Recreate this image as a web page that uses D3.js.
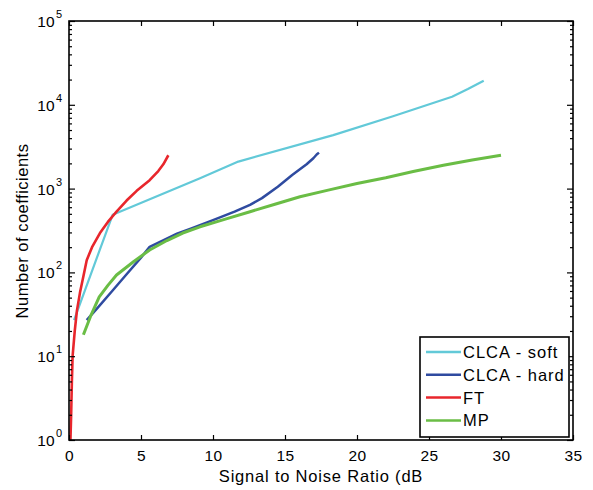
<!DOCTYPE html>
<html>
<head>
<meta charset="utf-8">
<script src="https://cdn.jsdelivr.net/npm/d3@7"></script>
<style>
  body { margin: 0; background: #fff; }
  text { font-family: "Liberation Sans", Arial, Helvetica, sans-serif; fill: #000; }
</style>
</head>
<body>
<div id="chart"></div>
<script>
// data
var seriesNames = ["CLCA - soft", "CLCA - hard", "FT", "MP"];
var seriesColors = ["#62c9d8", "#2f4ba0", "#e8262c", "#6abd45"];

var softX = [0.35, 3.03, 9.1, 11.76, 18.35, 22.5, 26.6, 27.7, 28.8];
var softY = [27, 487, 1330, 2100, 4350, 7300, 12470, 15400, 19400];

var hardX = [1.23, 2.0, 3.0, 4.0, 5.0, 5.6, 6.5, 7.5, 8.5, 10.0, 11.5, 12.57, 13.4, 14.5, 15.5, 16.5, 16.97, 17.2, 17.36];
var hardY = [27, 38, 60, 95, 150, 202, 240, 290, 335, 420, 530, 640, 770, 1050, 1450, 1950, 2300, 2550, 2690];

var ftX = [0.1, 0.15, 0.2, 0.25, 0.4, 0.55, 0.76, 1.0, 1.23, 1.6, 2.15, 2.7, 3.3, 4.0, 4.7, 5.6, 6.2, 6.55, 6.9];
var ftY = [1, 2, 5, 10, 20, 35, 57, 90, 140, 200, 295, 400, 530, 720, 940, 1260, 1620, 1950, 2500];

var mpX = [1.0, 1.5, 2.1, 2.7, 3.3, 4.5, 5.6, 6.8, 7.9, 9.1, 10.8, 12.57, 14.3, 16.04, 18, 20, 22, 23.9, 26, 28, 30];
var mpY = [18, 30, 51, 70, 93, 135, 185, 240, 295, 350, 430, 530, 650, 800, 960, 1150, 1350, 1600, 1900, 2200, 2500];

var xTicks = [0, 5, 10, 15, 20, 25, 30, 35];
var yExponents = [0, 1, 2, 3, 4, 5];

var svgWidth = 593, svgHeight = 490;
var margin = { top: 21, right: 20, bottom: 50, left: 69 };
var width = 504, height = 419;

var svg = d3.select("#chart").append("svg")
  .attr("width", svgWidth)
  .attr("height", svgHeight);

var chartGroup = svg.append("g")
  .attr("transform", `translate(${margin.left}, ${margin.top})`);

var x = d3.scaleLinear().domain([0, 35]).range([0, width]);
var y = d3.scaleLog().domain([1, 1e5]).range([height, 0]);

var series = [
  { xs: softX, ys: softY, w: 2.2 },
  { xs: hardX, ys: hardY, w: 2.5 },
  { xs: ftX, ys: ftY, w: 2.6 },
  { xs: mpX, ys: mpY, w: 3 }
];

// lines
var line = d3.line().x(d => x(d[0])).y(d => y(d[1]));
chartGroup.append("clipPath").attr("id", "clip")
  .append("rect").attr("width", width).attr("height", height);

series.forEach(function(s, i) {
  chartGroup.append("path")
    .datum(d3.zip(s.xs, s.ys))
    .attr("clip-path", "url(#clip)")
    .attr("fill", "none")
    .attr("stroke", seriesColors[i])
    .attr("stroke-width", s.w)
    .attr("stroke-linejoin", "round")
    .attr("d", line);
});

// axes (ticks inward on all sides)
function styleAxis(g) {
  g.select(".domain").remove();
  g.selectAll(".tick line").attr("stroke", "#000").attr("stroke-width", 1.2);
}

var minor = y.ticks().filter(v => !yExponents.some(e => Math.abs(v - Math.pow(10, e)) < 1e-9));
var major = yExponents.map(e => Math.pow(10, e));

chartGroup.append("g")
  .call(d3.axisLeft(y).tickValues(minor).tickSize(-3).tickFormat(""))
  .call(styleAxis);
chartGroup.append("g")
  .attr("transform", `translate(${width},0)`)
  .call(d3.axisRight(y).tickValues(minor).tickSize(-3).tickFormat(""))
  .call(styleAxis);
chartGroup.append("g")
  .call(d3.axisLeft(y).tickValues(major).tickSize(-6).tickFormat(""))
  .call(styleAxis);
chartGroup.append("g")
  .attr("transform", `translate(${width},0)`)
  .call(d3.axisRight(y).tickValues(major).tickSize(-6).tickFormat(""))
  .call(styleAxis);

var xAxisBottom = chartGroup.append("g")
  .attr("transform", `translate(0,${height})`)
  .call(d3.axisBottom(x).tickValues(xTicks).tickSize(-5).tickPadding(10))
  .call(styleAxis);
xAxisBottom.selectAll(".tick text")
  .attr("font-size", "15.5px")
  .attr("font-family", "Liberation Sans, Arial, sans-serif")
  .style("letter-spacing", "0.3px");
chartGroup.append("g")
  .call(d3.axisTop(x).tickValues(xTicks).tickSize(-5).tickFormat(""))
  .call(styleAxis);

// y tick labels 10^n
yExponents.forEach(function(e) {
  chartGroup.append("text")
    .attr("x", -14)
    .attr("y", y(Math.pow(10, e)) + 6)
    .attr("text-anchor", "end")
    .attr("font-size", "15.5px")
    .style("letter-spacing", "0.3px")
    .text("10");
  chartGroup.append("text")
    .attr("x", -13)
    .attr("y", y(Math.pow(10, e)) - 3)
    .attr("font-size", "11px")
    .text(e);
});

// frame
chartGroup.append("rect")
  .attr("width", width)
  .attr("height", height)
  .attr("fill", "none")
  .attr("stroke", "#000")
  .attr("stroke-width", 1.6);

// axis labels
svg.append("text")
  .attr("x", margin.left + width / 2)
  .attr("y", 482)
  .attr("text-anchor", "middle")
  .attr("font-size", "16.5px")
  .style("letter-spacing", "0.8px")
  .text("Signal to Noise Ratio (dB");

svg.append("text")
  .attr("transform", "translate(28, 231) rotate(-90)")
  .attr("text-anchor", "middle")
  .attr("font-size", "16.5px")
  .style("letter-spacing", "0.5px")
  .text("Number of coefficients");

// legend
var legend = svg.append("g").attr("transform", "translate(420, 337)");
legend.append("rect")
  .attr("width", 149)
  .attr("height", 100)
  .attr("fill", "#fff")
  .attr("stroke", "#000")
  .attr("stroke-width", 1.6);

seriesNames.forEach(function(name, i) {
  var row = legend.append("g").attr("transform", `translate(0, ${15 + i * 22.8})`);
  row.append("line")
    .attr("x1", 6).attr("x2", 41)
    .attr("stroke", seriesColors[i])
    .attr("stroke-width", 2.5);
  row.append("text")
    .attr("x", 43)
    .attr("y", 6)
    .attr("font-size", "16.5px")
    .style("letter-spacing", "1px")
    .text(name);
});
</script>
</body>
</html>
